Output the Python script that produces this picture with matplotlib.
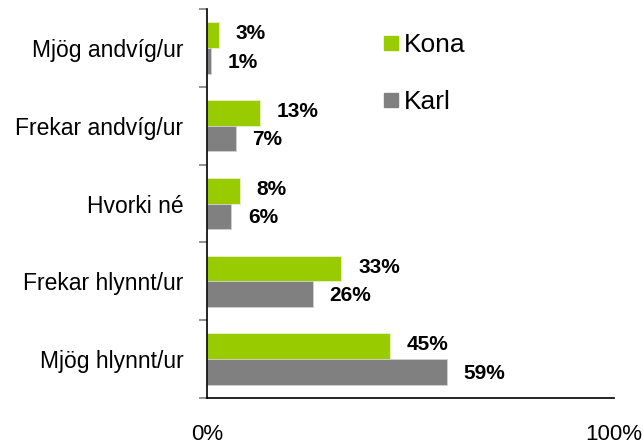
import numpy as np
import matplotlib.pyplot as plt
from matplotlib.lines import Line2D

plt.rcParams['font.family'] = ['Liberation Sans', 'DejaVu Sans']

categories = ['Mjög andvíg/ur', 'Frekar andvíg/ur', 'Hvorki né', 'Frekar hlynnt/ur', 'Mjög hlynnt/ur']
kona = [3, 13, 8, 33, 45]
karl = [1, 7, 6, 26, 59]
xticks = [0, 100]
xticklabels = ['0%', '100%']

green = '#99cc00'
grey = '#808080'

fig = plt.figure(figsize=(6.43, 4.46), dpi=100)
ax = fig.add_axes([0.322, 0.1076, 0.633, 0.872])

y = np.arange(len(categories))
h = 0.33
ax.barh(y - h / 2, kona, height=h, color=green, edgecolor='#e8f2c8', linewidth=0.6)
ax.barh(y + h / 2, karl, height=h, color=grey, edgecolor='#d0d0d0', linewidth=0.6)

for i in range(len(categories)):
    ax.annotate(f'{kona[i]}%', (kona[i], y[i] - h / 2), xytext=(12, 1), textcoords='offset points',
                ha='left', va='center', fontsize=15, fontweight='bold')
    ax.annotate(f'{karl[i]}%', (karl[i], y[i] + h / 2), xytext=(12, -1), textcoords='offset points',
                ha='left', va='center', fontsize=15, fontweight='bold')

ax.set_xlim(0, 100)
ax.set_ylim(len(categories) - 0.5, -0.5)
ax.set_yticks(y)
ax.set_yticklabels(categories, fontsize=16.5)
ax.set_yticks(np.arange(len(categories) + 1) - 0.5, minor=True)
ax.tick_params(axis='y', which='major', length=0, pad=17)
ax.tick_params(axis='y', which='minor', length=6, color='#808080', width=1.2)
ax.set_xticks(xticks)
ax.set_xticklabels(xticklabels, fontsize=16)
ax.tick_params(axis='x', length=0, pad=19)

ax.spines['top'].set_visible(False)
ax.spines['right'].set_visible(False)
ax.spines['left'].set_linewidth(1.2)
ax.spines['bottom'].set_linewidth(1.2)

handles = [Line2D([], [], marker='s', linestyle='', color=green, markersize=10),
           Line2D([], [], marker='s', linestyle='', color=grey, markersize=10)]
fig.legend(handles, ['Kona', 'Karl'], loc='upper left', bbox_to_anchor=(380 / 643, 1 - 33 / 446),
           frameon=False, fontsize=19, handlelength=0.8, handletextpad=0.1,
           labelspacing=1.25, borderpad=0, borderaxespad=0)

fig.savefig('out.png', dpi=100)
